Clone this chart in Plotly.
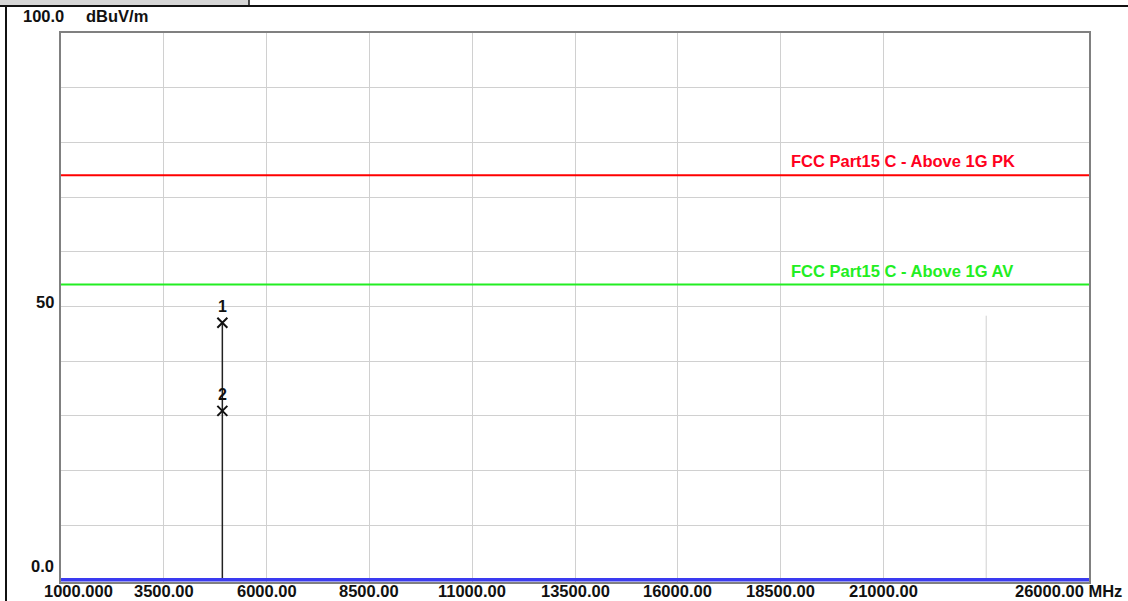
import plotly.graph_objects as go

# ---- data ----
freq_ticks = [1000, 3500, 6000, 8500, 11000, 13500, 16000, 18500, 21000, 23500, 26000]
freq_tick_labels = ["1000.000", "3500.00", "6000.00", "8500.00", "11000.00", "13500.00",
                    "16000.00", "18500.00", "21000.00", "", "26000.00 MHz"]
level_ticks = [0, 50, 100]
level_tick_labels = ["0.0", "50", "100.0"]
y_unit = "dBuV/m"

limit_pk_level = 74.0
limit_pk_name = "FCC Part15 C - Above 1G PK"
limit_av_level = 54.0
limit_av_name = "FCC Part15 C - Above 1G AV"
limit_label_freq = 18700

trace_freq = [1000, 26000]
trace_level = [0.0, 0.0]

marker_freq = [4924, 4924]
marker_level = [47.0, 30.9]
marker_names = ["1", "2"]

partial_grid_freq = 23500
partial_grid_top = 48.3

# ---- geometry helpers (layout decoration only) ----
W, H = 1128, 601
Y_MIN = -0.4
L, R, T, B0 = 61, 1089, 33, 580          # B0: pixel row of level 0
PPU = (B0 - T) / 100.0                    # pixels per dB
B = B0 - Y_MIN * PPU                      # bottom of plotting area
def px(x):
    return (x - L) / (R - L)
def py(y):
    return (B - y) / (B - T)

FONT = "Liberation Sans, Arial, sans-serif"
FS = 16.5
fig = go.Figure()

# limit lines
fig.add_trace(go.Scatter(x=[freq_ticks[0], freq_ticks[-1]], y=[limit_pk_level] * 2,
                         mode="lines", line=dict(color="#ff0000", width=2), hoverinfo="skip"))
fig.add_trace(go.Scatter(x=[freq_ticks[0], freq_ticks[-1]], y=[limit_av_level] * 2,
                         mode="lines", line=dict(color="#22ee22", width=2), hoverinfo="skip"))
# marker stem
fig.add_trace(go.Scatter(x=[marker_freq[0], marker_freq[0]], y=[0, max(marker_level)],
                         mode="lines", line=dict(color="#222222", width=1.5), hoverinfo="skip"))
# trace
fig.add_trace(go.Scatter(x=trace_freq, y=trace_level, mode="lines",
                         line=dict(color="#3a3af0", width=3.5), cliponaxis=False))
# markers
fig.add_trace(go.Scatter(x=marker_freq, y=marker_level, mode="markers+text",
                         marker=dict(symbol="x-thin", size=10, line=dict(width=2, color="#111111"),
                                     color="#111111"),
                         text=["<b>%s</b>" % n for n in marker_names], textposition="top center",
                         textfont=dict(family=FONT, size=16, color="#111111")))

annotations = []
# limit labels
annotations.append(dict(x=limit_label_freq, y=limit_pk_level, xref="x", yref="y",
                        text="<b>%s</b>" % limit_pk_name, showarrow=False,
                        xanchor="left", yanchor="bottom", yshift=3,
                        font=dict(family=FONT, size=FS, color="#ff0020")))
annotations.append(dict(x=limit_label_freq, y=limit_av_level, xref="x", yref="y",
                        text="<b>%s</b>" % limit_av_name, showarrow=False,
                        xanchor="left", yanchor="bottom", yshift=3,
                        font=dict(family=FONT, size=FS, color="#22ee22")))
# x tick labels
for i, (f, lab) in enumerate(zip(freq_ticks, freq_tick_labels)):
    if not lab:
        continue
    if i == 0:
        a = dict(xanchor="left", xshift=-19)
    elif i == len(freq_ticks) - 1:
        a = dict(xanchor="right", xshift=35)
    else:
        a = dict(xanchor="center", xshift=0)
    annotations.append(dict(x=f, y=py(591), xref="x", yref="paper", text="<b>%s</b>" % lab,
                            showarrow=False, yanchor="middle",
                            font=dict(family=FONT, size=FS, color="#111111"), **a))
# y tick labels
for v, lab in zip(level_ticks, level_tick_labels):
    if v == level_ticks[-1]:
        annotations.append(dict(x=px(21), y=py(16), xref="paper", yref="paper",
                                text="<b>%s</b>" % lab, showarrow=False, xanchor="left",
                                yanchor="middle", font=dict(family=FONT, size=FS, color="#111111")))
    else:
        shift = 14 if v == 0 else 4
        annotations.append(dict(x=px(56), y=v, xref="paper", yref="y", text="<b>%s</b>" % lab,
                                showarrow=False, xanchor="right", yanchor="middle", yshift=shift,
                                font=dict(family=FONT, size=FS, color="#111111")))
annotations.append(dict(x=px(84), y=py(16), xref="paper", yref="paper", text="<b>%s</b>" % y_unit,
                        showarrow=False, xanchor="left", yanchor="middle",
                        font=dict(family=FONT, size=FS, color="#111111")))

shapes = [
    # partial grid line
    dict(type="line", x0=partial_grid_freq, x1=partial_grid_freq, y0=0, y1=partial_grid_top,
         xref="x", yref="y", line=dict(color="#d0d0d0", width=1), layer="below"),
    # header box
    dict(type="rect", x0=px(0), x1=px(249), y0=py(6), y1=py(-2), xref="paper", yref="paper",
         fillcolor="#d6d6d6", line=dict(width=0)),
    dict(type="line", x0=px(249), x1=px(249), y0=py(6), y1=py(-2), xref="paper", yref="paper",
         line=dict(color="#111111", width=1.5)),
    dict(type="line", x0=px(0), x1=px(W), y0=py(6), y1=py(6), xref="paper", yref="paper",
         line=dict(color="#111111", width=2)),
    # outer left border
    dict(type="line", x0=px(6), x1=px(6), y0=py(6), y1=py(H + 2), xref="paper", yref="paper",
         line=dict(color="#111111", width=2)),
]

fig.update_layout(
    width=W, height=H,
    margin=dict(l=L, r=W - R, t=T, b=H - B),
    paper_bgcolor="white", plot_bgcolor="white",
    showlegend=False,
    annotations=annotations, shapes=shapes,
    xaxis=dict(range=[freq_ticks[0], freq_ticks[-1]], tickvals=freq_ticks[1:-2],
               showticklabels=False, ticks="", showgrid=True, gridcolor="#d0d0d0", gridwidth=1,
               zeroline=False, showline=True, mirror=True, linecolor="#808080", linewidth=2,
               layer="below traces", fixedrange=True),
    yaxis=dict(range=[Y_MIN, 100], tickvals=list(range(10, 100, 10)), showticklabels=False,
               ticks="", showgrid=True, gridcolor="#d0d0d0", gridwidth=1, zeroline=False,
               showline=True, mirror=True, linecolor="#808080", linewidth=2,
               layer="below traces", fixedrange=True),
)

fig.write_html("out.html", config={"displayModeBar": False},
               post_script="document.body.style.margin='0px';document.body.style.overflow='hidden';")
